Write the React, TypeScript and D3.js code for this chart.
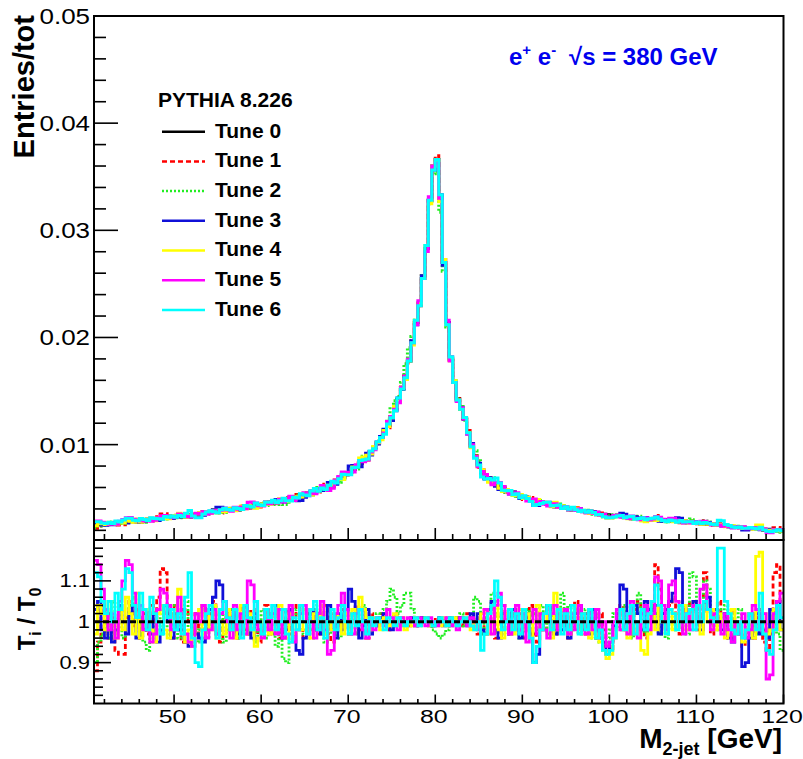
import React from "react";
import * as d3 from "d3";

// ---------------- DATA ----------------
const BIN_LO = 40.8; // first visible bin low edge (GeV)
const BIN_W = 0.4; // bin width (GeV)
const X_MAX = 120;

// Tune 0 normalised distribution, units of 1e-3 (Entries/tot)
const tune0 = [
  2.50, 2.53, 2.56, 2.59, 2.62, 2.65, 2.68, 2.71, 2.74, 2.77,
  2.80, 2.83, 2.86, 2.90, 2.93, 2.97, 3.00, 3.04, 3.08, 3.12,
  3.16, 3.20, 3.24, 3.28, 3.32, 3.36, 3.40, 3.44, 3.48, 3.52,
  3.56, 3.60, 3.64, 3.68, 3.73, 3.77, 3.81, 3.86, 3.90, 3.95,
  4.00, 4.05, 4.10, 4.15, 4.21, 4.27, 4.33, 4.39, 4.45, 4.51,
  4.57, 4.63, 4.70, 4.77, 4.84, 4.91, 4.98, 5.05, 5.13, 5.21,
  5.30, 5.40, 5.51, 5.63, 5.76, 5.90, 6.05, 6.21, 6.38, 6.56,
  6.75, 6.96, 7.18, 7.42, 7.68, 7.96, 8.26, 8.58, 8.93, 9.31,
  9.72, 10.17, 10.66, 11.2, 11.8, 12.5, 13.3, 14.2, 15.2, 16.4,
  17.8, 19.5, 21.4, 23.2, 25.5, 28.3, 32.8, 36.0, 36.6, 33.0,
  27.0, 21.4, 18.0, 15.8, 14.3, 13.3, 12.4, 11.1, 9.9, 8.9,
  8.1, 7.5, 7.0, 6.7, 6.45, 6.25, 6.05, 5.85, 5.70, 5.56,
  5.42, 5.30, 5.19, 5.08, 4.98, 4.88, 4.79, 4.70, 4.61, 4.53,
  4.45, 4.38, 4.31, 4.24, 4.17, 4.11, 4.05, 3.99, 3.93, 3.87,
  3.81, 3.76, 3.71, 3.66, 3.61, 3.56, 3.51, 3.46, 3.42, 3.38,
  3.33, 3.29, 3.25, 3.21, 3.18, 3.14, 3.11, 3.08, 3.05, 3.02,
  2.99, 2.97, 2.94, 2.92, 2.89, 2.87, 2.85, 2.82, 2.80, 2.78,
  2.75, 2.73, 2.70, 2.67, 2.64, 2.61, 2.58, 2.55, 2.52, 2.49,
  2.46, 2.43, 2.40, 2.37, 2.34, 2.31, 2.28, 2.25, 2.22, 2.19,
  2.16, 2.13, 2.10, 2.07, 2.04, 2.01, 1.98, 1.95,
];

// Ratios T_i / T_0 in percent
const ratio1 = [
  88, 95, 104, 102, 96, 101, 93, 92, 92, 101,
  105, 99, 103, 96, 102, 97, 104, 100, 106, 113,
  112, 102, 96, 104, 98, 95, 103, 100, 97, 102,
  96, 104, 98, 102, 105, 97, 95, 101, 103, 98,
  102, 96, 104, 98, 97, 103, 100, 95, 98, 104,
  100, 97, 102, 96, 98, 103, 97, 100, 104, 98,
  96, 102, 98, 103, 97, 100, 104, 97, 95, 102,
  99, 103, 100, 97, 102, 104, 98, 100, 96, 102,
  100, 99, 102, 100, 98, 101, 102, 99, 101, 100,
  99, 101, 100, 99, 101, 100, 100, 99, 101, 100,
  101, 100, 99, 100, 101, 99, 100, 102, 99, 101,
  97, 102, 98, 103, 100, 96, 102, 104, 98, 101,
  103, 98, 102, 96, 101, 104, 97, 95, 102, 98,
  100, 104, 97, 102, 98, 103, 96, 101, 105, 98,
  102, 97, 103, 100, 96, 102, 98, 94, 93, 96,
  101, 104, 98, 102, 97, 103, 105, 98, 96, 103,
  105, 114, 108, 102, 98, 104, 106, 100, 97, 103,
  100, 105, 102, 98, 104, 112, 102, 97, 103, 105,
  102, 98, 96, 103, 100, 97, 94, 98, 102, 96,
  101, 103, 95, 93, 97, 112, 114, 105,
];
const ratio2 = [
  90, 95, 97, 102, 96, 105, 98, 103, 96, 100,
  104, 106, 100, 97, 95, 93, 96, 102, 98, 103,
  97, 100, 104, 98, 96, 102, 105, 97, 100, 95,
  98, 103, 96, 100, 104, 97, 102, 95, 98, 103,
  100, 96, 98, 104, 97, 101, 95, 98, 103, 96,
  102, 97, 94, 100, 91, 90, 96, 100, 103, 98,
  97, 102, 96, 98, 104, 100, 95, 97, 102, 98,
  96, 100, 103, 98, 102, 97, 100, 104, 101, 98,
  100, 102, 101, 103, 105, 108, 106, 102, 104, 107,
  107, 103, 101, 99, 101, 100, 99, 98, 97, 96,
  97, 98, 99, 101, 100, 102, 99, 100, 101, 106,
  105, 97, 101, 103, 107, 105, 101, 98, 97, 100,
  102, 98, 96, 100, 103, 97, 102, 98, 104, 100,
  97, 102, 98, 103, 107, 100, 104, 98, 102, 97,
  100, 103, 97, 96, 102, 95, 93, 96, 98, 102,
  103, 98, 104, 100, 96, 102, 107, 103, 97, 100,
  104, 102, 97, 100, 96, 103, 98, 102, 105, 100,
  97, 112, 111, 104, 100, 110, 108, 102, 98, 103,
  100, 104, 98, 102, 97, 103, 100, 96, 98, 102,
  97, 102, 100, 96, 98, 102, 97, 93,
];
const ratio3 = [
  103, 105, 98, 96, 102, 95, 98, 104, 100, 97,
  102, 104, 96, 100, 98, 103, 97, 102, 95, 98,
  104, 100, 96, 102, 98, 103, 95, 94, 100, 97,
  96, 95, 98, 103, 106, 110, 109, 105, 101, 98,
  103, 97, 100, 104, 98, 96, 102, 100, 97, 103,
  98, 102, 104, 100, 96, 98, 103, 97, 93, 92,
  96, 100, 103, 98, 102, 97, 100, 104, 98, 96,
  102, 98, 103, 108, 105, 100, 96, 99, 103, 97,
  100, 99, 101, 102, 100, 98, 99, 101, 100, 99,
  100, 101, 99, 100, 101, 100, 100, 99, 100, 101,
  99, 100, 101, 100, 99, 101, 100, 99, 102, 100,
  102, 98, 97, 103, 105, 98, 96, 102, 100, 97,
  103, 100, 96, 98, 102, 97, 90, 92, 98, 102,
  104, 100, 97, 102, 98, 103, 96, 100, 102, 104,
  98, 102, 97, 103, 100, 96, 95, 92, 95, 99,
  102, 109, 108, 100, 97, 104, 102, 98, 105, 103,
  100, 104, 97, 102, 103, 105, 107, 113, 112, 104,
  100, 103, 105, 102, 98, 104, 106, 100, 103, 102,
  98, 102, 96, 95, 100, 97, 89, 90, 96, 99,
  102, 97, 98, 96, 103, 100, 105, 98,
];
const ratio4 = [
  97, 104, 102, 98, 105, 100, 96, 103, 98, 106,
  102, 97, 107, 96, 100, 103, 98, 95, 102, 104,
  98, 96, 100, 103, 108, 102, 95, 98, 94, 100,
  103, 97, 102, 98, 104, 96, 100, 97, 103, 98,
  96, 100, 104, 97, 102, 98, 94, 96, 100, 103,
  97, 102, 98, 104, 100, 96, 102, 97, 100, 98,
  103, 98, 96, 102, 100, 104, 97, 100, 98, 102,
  100, 97, 102, 98, 103, 100, 106, 103, 101, 98,
  101, 100, 98, 101, 99, 100, 102, 99, 101, 98,
  100, 99, 101, 100, 100, 101, 99, 100, 100, 99,
  101, 99, 100, 101, 99, 100, 101, 100, 98, 100,
  98, 102, 103, 97, 100, 104, 98, 96, 102, 100,
  97, 100, 103, 98, 102, 96, 100, 104, 98, 102,
  100, 96, 107, 98, 103, 100, 97, 102, 104, 98,
  102, 98, 96, 100, 97, 95, 93, 91, 92, 96,
  100, 103, 98, 96, 102, 97, 100, 93, 92, 97,
  102, 98, 104, 100, 97, 103, 98, 102, 100, 104,
  98, 103, 100, 102, 97, 104, 100, 103, 98, 102,
  100, 96, 98, 103, 97, 100, 95, 98, 102, 96,
  116, 117, 102, 97, 98, 103, 100, 98,
];
const ratio5 = [
  115, 114, 108, 103, 98, 102, 96, 105, 110, 115,
  114, 107, 101, 104, 98, 100, 95, 97, 103, 108,
  107, 104, 98, 100, 106, 102, 97, 95, 94, 102,
  100, 104, 96, 98, 103, 97, 102, 105, 100, 96,
  104, 98, 102, 97, 110, 109, 105, 98, 96, 103,
  98, 102, 97, 103, 96, 100, 104, 95, 98, 102,
  104, 97, 100, 96, 102, 105, 98, 92, 93, 102,
  104, 107, 103, 100, 97, 102, 103, 98, 96, 100,
  98, 101, 100, 99, 103, 101, 100, 98, 101, 100,
  101, 100, 99, 101, 100, 99, 101, 100, 99, 100,
  100, 101, 99, 100, 98, 101, 100, 99, 101, 100,
  98, 100, 103, 102, 97, 104, 107, 104, 100, 97,
  100, 104, 98, 102, 95, 100, 103, 97, 102, 98,
  96, 102, 104, 98, 100, 103, 97, 102, 98, 104,
  100, 97, 102, 98, 103, 96, 100, 94, 95, 100,
  103, 98, 102, 97, 105, 100, 96, 102, 104, 98,
  102, 111, 110, 104, 98, 109, 110, 105, 100, 97,
  102, 98, 104, 100, 108, 109, 103, 98, 102, 100,
  97, 102, 98, 95, 100, 97, 102, 96, 98, 104,
  103, 98, 102, 86, 87, 102, 105, 107,
];
const ratio6 = [
  112, 111, 105, 102, 105, 100, 107, 103, 108, 113,
  112, 104, 101, 107, 103, 98, 106, 102, 100, 97,
  104, 101, 103, 98, 102, 97, 106, 112, 96, 90,
  89, 98, 102, 104, 100, 96, 103, 105, 101, 98,
  103, 100, 96, 104, 101, 98, 105, 100, 97, 103,
  101, 104, 98, 100, 103, 97, 95, 101, 98, 104,
  100, 97, 103, 105, 98, 101, 96, 100, 103, 98,
  101, 104, 100, 97, 102, 99, 103, 100, 97, 101,
  99, 101, 100, 98, 101, 100, 99, 101, 100, 99,
  100, 100, 101, 99, 100, 101, 100, 99, 100, 101,
  100, 99, 101, 100, 99, 100, 101, 100, 99, 98,
  100, 93, 97, 102, 104, 110, 106, 98, 100, 103,
  98, 102, 97, 103, 100, 96, 90, 94, 98, 102,
  104, 98, 100, 103, 97, 102, 98, 104, 100, 97,
  102, 98, 103, 100, 96, 98, 93, 92, 93, 96,
  100, 103, 98, 102, 104, 97, 100, 103, 98, 102,
  105, 109, 104, 100, 97, 103, 102, 98, 104, 100,
  102, 103, 98, 104, 100, 105, 103, 101, 100, 118,
  118, 105, 102, 98, 97, 100, 96, 98, 102, 100,
  98, 107, 97, 93, 92, 98, 104, 101,
];

const tuneNames = ["Tune 0", "Tune 1", "Tune 2", "Tune 3", "Tune 4", "Tune 5", "Tune 6"];
const ratioSeries = [ratio1, ratio2, ratio3, ratio4, ratio5, ratio6];

const yTopMajor = [0.01, 0.02, 0.03, 0.04, 0.05];
const yTopLabels = ["0.01", "0.02", "0.03", "0.04", "0.05"];
const yBotMajor = [0.9, 1.0, 1.1];
const yBotLabels = ["0.9", "1", "1.1"];
const xMajor = [50, 60, 70, 80, 90, 100, 110, 120];
const xLabels = ["50", "60", "70", "80", "90", "100", "110", "120"];

// ---------------- STYLE ----------------
const FONT = "'Liberation Sans', Arial, Helvetica, sans-serif";
const styles = [
  { color: "#000000", dash: undefined },
  { color: "#ff0000", dash: "5,3" },
  { color: "#22ee22", dash: "2,2" },
  { color: "#1010d8", dash: undefined },
  { color: "#ffff00", dash: undefined },
  { color: "#ff00ff", dash: undefined },
  { color: "#00ffff", dash: undefined },
];

const L = 94, R = 783.5, T = 16, MID = 540, B = 703.5;
const x = d3.scaleLinear().domain([BIN_LO, X_MAX]).range([L, R]);
const yTop = d3.scaleLinear().domain([0.0011, 0.05]).range([MID, T]);
const yBot = d3.scaleLinear().domain([0.8, 1.2]).range([B, MID]);

function stepPath(vals: number[], y: (v: number) => number) {
  const pts: [number, number][] = vals.map((v, k) => [BIN_LO + BIN_W * k, v]);
  pts.push([X_MAX, vals[vals.length - 1]]);
  return d3
    .line<[number, number]>()
    .x((d) => x(d[0]))
    .y((d) => y(d[1]))
    .curve(d3.curveStepAfter)(pts) as string;
}

const t0 = tune0.map((v) => v * 1e-3);
const tunes = [t0, ...ratioSeries.map((r) => r.map((p, k) => (t0[k] * p) / 100))];
const ratios = ratioSeries.map((r) => r.map((p) => p / 100));

function SText({ x, y, sx, size, anchor, children }: any) {
  return (
    <text
      transform={`translate(${x},${y}) scale(${sx},1)`}
      textAnchor={anchor}
      fontSize={size}
      fontFamily={FONT}
      fill="#000"
    >
      {children}
    </text>
  );
}

export default function App() {
  const xMinor = d3.range(42, 120, 2).filter((v) => v % 10 !== 0);
  const yTopMinor = d3.range(2, 50, 2).map((v) => v / 1000).filter((v, i) => (i + 1) % 5 !== 0 && v > 0.0011);
  const yBotMinor = d3.range(82, 120, 2).map((v) => v / 100).filter((v) => Math.abs(v * 10 - Math.round(v * 10)) > 1e-6);

  return (
    <svg
      width={803}
      height={759}
      style={{ position: "absolute", left: 0, top: 0, background: "#fff" }}
    >
      <defs>
        <clipPath id="clipTop">
          <rect x={L} y={T} width={R - L} height={MID - T} />
        </clipPath>
        <clipPath id="clipBot">
          <rect x={L} y={MID} width={R - L} height={B - MID} />
        </clipPath>
      </defs>
      <rect x={0} y={0} width={803} height={759} fill="#fff" />

      {/* upper histograms */}
      <g clipPath="url(#clipTop)">
        {tunes.map((vals, i) => (
          <path
            key={i}
            d={stepPath(vals, yTop)}
            fill="none"
            stroke={styles[i].color}
            strokeWidth={3}
            strokeDasharray={styles[i].dash}
          />
        ))}
      </g>

      {/* ratio histograms */}
      <g clipPath="url(#clipBot)">
        {ratios.map((vals, i) => (
          <path
            key={i}
            d={stepPath(vals, yBot)}
            fill="none"
            stroke={styles[i + 1].color}
            strokeWidth={2.8}
            strokeDasharray={styles[i + 1].dash}
          />
        ))}
        <line x1={L} x2={R} y1={yBot(1)} y2={yBot(1)} stroke="#000" strokeWidth={3} strokeDasharray="6,3" />
      </g>

      {/* frames */}
      <rect x={L} y={T} width={R - L} height={MID - T} fill="none" stroke="#000" strokeWidth={2} />
      <rect x={L} y={MID} width={R - L} height={B - MID} fill="none" stroke="#000" strokeWidth={2} />

      {/* upper y ticks */}
      {yTopMajor.map((v) => (
        <line key={"tM" + v} x1={L} x2={L + 24} y1={yTop(v)} y2={yTop(v)} stroke="#000" strokeWidth={1.6} />
      ))}
      {yTopMinor.map((v) => (
        <line key={"tm" + v} x1={L} x2={L + 12} y1={yTop(v)} y2={yTop(v)} stroke="#000" strokeWidth={1.6} />
      ))}
      {yTopMajor.map((v, i) => (
        <SText key={"tl" + v} x={90} y={yTop(v) + 8} sx={1.18} size={22} anchor="end">
          {yTopLabels[i]}
        </SText>
      ))}

      {/* lower y ticks */}
      {yBotMajor.map((v) => (
        <line key={"bM" + v} x1={L} x2={L + 17} y1={yBot(v)} y2={yBot(v)} stroke="#000" strokeWidth={1.6} />
      ))}
      {yBotMinor.map((v) => (
        <line key={"bm" + v} x1={L} x2={L + 9} y1={yBot(v)} y2={yBot(v)} stroke="#000" strokeWidth={1.6} />
      ))}
      {yBotMajor.map((v, i) => (
        <SText key={"bl" + v} x={90} y={yBot(v) + 6.5} sx={1.22} size={18} anchor="end">
          {yBotLabels[i]}
        </SText>
      ))}

      {/* x ticks, upper panel */}
      {xMajor.map((v) => (
        <line key={"xuM" + v} x1={x(v)} x2={x(v)} y1={MID} y2={MID - 12} stroke="#000" strokeWidth={1.6} />
      ))}
      {xMinor.map((v) => (
        <line key={"xum" + v} x1={x(v)} x2={x(v)} y1={MID} y2={MID - 6} stroke="#000" strokeWidth={1.6} />
      ))}
      {/* x ticks, lower panel */}
      {xMajor.map((v) => (
        <line key={"xlM" + v} x1={x(v)} x2={x(v)} y1={B} y2={B - 9} stroke="#000" strokeWidth={1.6} />
      ))}
      {xMinor.map((v) => (
        <line key={"xlm" + v} x1={x(v)} x2={x(v)} y1={B} y2={B - 4.5} stroke="#000" strokeWidth={1.6} />
      ))}
      {xMajor.map((v, i) => (
        <SText key={"xl" + v} x={x(v) - 1.5} y={723} sx={1.38} size={18} anchor="middle">
          {xLabels[i]}
        </SText>
      ))}

      {/* axis titles */}
      <text
        transform="translate(34,15) rotate(-90)"
        textAnchor="end"
        fontSize={29}
        fontWeight="bold"
        fontFamily={FONT}
      >
        Entries/tot
      </text>
      <text
        transform="translate(35,619) rotate(-90)"
        textAnchor="middle"
        fontSize={24}
        fontWeight="bold"
        fontFamily={FONT}
      >
        T<tspan fontSize={16} dy={6}>i</tspan>
        <tspan dy={-6}> / T</tspan>
        <tspan fontSize={16} dy={6}>0</tspan>
      </text>
      <text x={782} y={748} textAnchor="end" fontSize={28} fontWeight="bold" fontFamily={FONT}>
        M<tspan fontSize={18} dy={7}>2-jet</tspan>
        <tspan dy={-7}> [GeV]</tspan>
      </text>

      {/* energy label */}
      <text x={509} y={65} fontSize={24} fontWeight="bold" fontFamily={FONT} fill="#0000ee">
        e<tspan fontSize={15} dy={-10}>+</tspan>
        <tspan dy={10}> e</tspan>
        <tspan fontSize={15} dy={-10}>-</tspan>
        <tspan x={569} dy={10}>√s = 380 GeV</tspan>
      </text>

      {/* legend */}
      <text x={158} y={107} fontSize={21} fontWeight="bold" fontFamily={FONT}>
        PYTHIA 8.226
      </text>
      {tuneNames.map((name, i) => (
        <g key={name}>
          <line
            x1={162}
            x2={205}
            y1={131.7 + 29.7 * i}
            y2={131.7 + 29.7 * i}
            stroke={styles[i].color}
            strokeWidth={2.5}
            strokeDasharray={styles[i].dash}
          />
          <text x={215} y={137.5 + 29.7 * i} fontSize={21} fontWeight="bold" fontFamily={FONT}>
            {name}
          </text>
        </g>
      ))}
    </svg>
  );
}
